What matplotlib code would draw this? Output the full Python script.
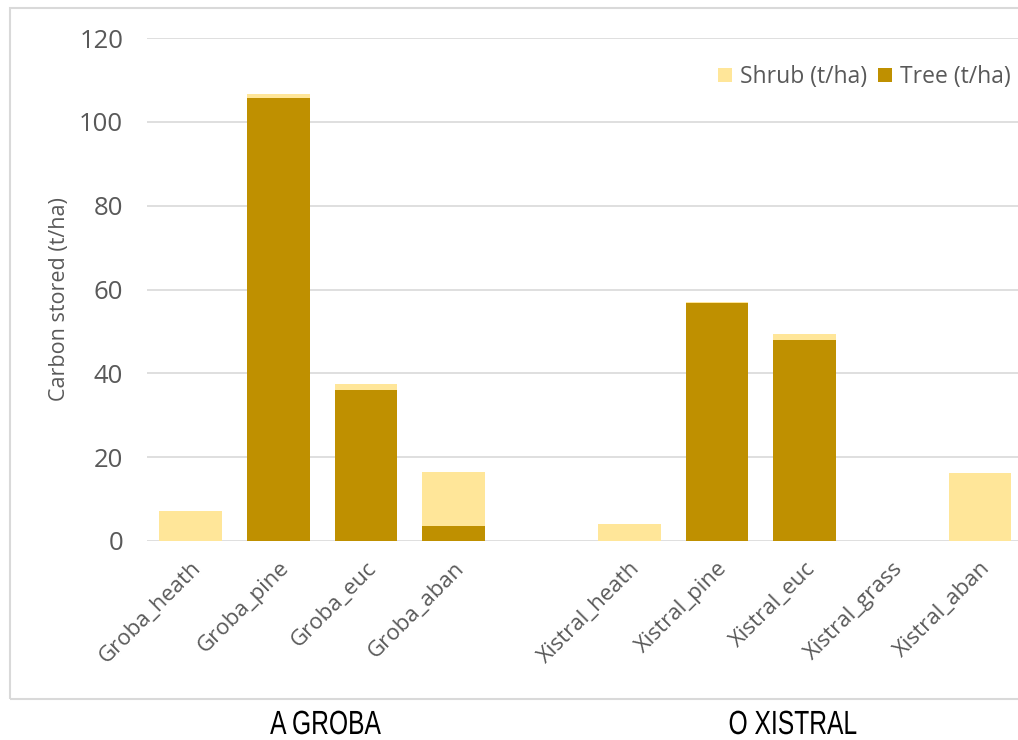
import matplotlib
matplotlib.use("Agg")
from matplotlib import pyplot as plt
from matplotlib.patches import Rectangle, PathPatch
from matplotlib.textpath import TextPath
from matplotlib.font_manager import FontProperties
from matplotlib.transforms import Affine2D, IdentityTransform

# carbon stock per land use (t/ha); empty slot separates the two sites
categories = ['Groba_heath', 'Groba_pine', 'Groba_euc', 'Groba_aban', '',
              'Xistral_heath', 'Xistral_pine', 'Xistral_euc', 'Xistral_grass', 'Xistral_aban']
tree = [0, 105.6, 36.0, 3.5, 0, 0, 56.8, 48.0, 0, 0]
shrub = [7.2, 1.1, 1.5, 13.0, 0, 4.0, 0.1, 1.5, 0, 16.3]
sites = ['A GROBA', 'O XISTRAL']

plt.rcParams['font.family'] = ['Open Sans', 'DejaVu Sans']

fig = plt.figure(figsize=(10.18, 7.4), dpi=100)
W, H = 1018, 740
ax = fig.add_axes([146.85 / W, (H - 541) / H, 877 / W, (541 - 38) / H])

tree_col = '#BF9000'
shrub_col = '#FFE699'
x = list(range(len(categories)))
ax.bar(x, tree, width=0.715, color=tree_col, label='Tree (t/ha)', zorder=3)
ax.bar(x, shrub, width=0.715, bottom=tree, color=shrub_col, label='Shrub (t/ha)', zorder=3)

ax.set_xlim(-0.5, 9.5)
ax.set_ylim(0, 120)
ax.set_yticks(range(0, 121, 20))
ax.grid(axis='y', color='#D9D9D9', linewidth=1.2, zorder=0)
for s in ax.spines.values():
    s.set_visible(False)
ax.tick_params(length=0, colors='#595959')
ax.tick_params(axis='y', labelsize=18.5, pad=17)
ax.set_xticks(x)
ax.set_xticklabels(categories, rotation=45, ha='right', rotation_mode='anchor',
                   fontsize=16, color='#595959')
ax.tick_params(axis='x', pad=12)
ax.set_ylabel('Carbon stored (t/ha)', fontsize=15.5, color='#595959')
ax.yaxis.set_label_coords((70 - 146.85) / 877, 0.48)

handles, labels = ax.get_legend_handles_labels()
ax.legend(handles[::-1], labels[::-1], loc='center right',
          bbox_to_anchor=(1020 / W, (H - 77) / H), bbox_transform=fig.transFigure,
          ncol=2, frameon=False, fontsize=16.5, labelcolor='#595959',
          handlelength=0.6, handleheight=0.6, handletextpad=0.35,
          columnspacing=0.5, borderaxespad=0)

# chart frame
fig.patches.append(Rectangle((10 / W, (H - 699) / H), 1010 / W, 691 / H,
                             transform=fig.transFigure, fill=False,
                             edgecolor='#D9D9D9', linewidth=1.5))


def narrow_label(s, cx, baseline, size=33.5, squeeze=0.735):
    # condensed site label drawn as a horizontally squeezed text path (pixel units)
    tp = TextPath((0, 0), s, size=size, prop=FontProperties(family='Liberation Sans'))
    ext = tp.get_extents()
    width = ext.width * squeeze
    tr = Affine2D().translate(-ext.x0, 0).scale(squeeze, 1).translate(cx - width / 2, H - baseline)
    fig.add_artist(PathPatch(tr.transform_path(tp), transform=IdentityTransform(),
                             facecolor='black', edgecolor='none'))


narrow_label(sites[0], 325.5, 734)
narrow_label(sites[1], 793, 734)

fig.savefig('out.png', dpi=100)
